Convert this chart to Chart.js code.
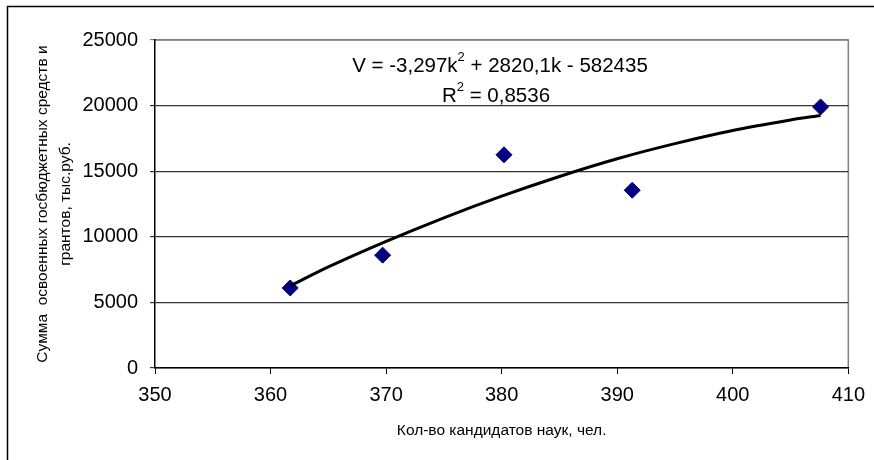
<!DOCTYPE html>
<html>
<head>
<meta charset="utf-8">
<script src="https://cdn.jsdelivr.net/npm/chart.js@4.4.0/dist/chart.umd.min.js"></script>
<style>
  body { margin: 0; background: #fff; }
</style>
</head>
<body>
<canvas id="grafico" width="874" height="460"></canvas>
<script>
// кандидаты наук vs сумма средств
var kandidaty = [361.7, 369.7, 380.2, 391.3, 407.6];
var summa = [6100, 8600, 16250, 13550, 19900];

// линия тренда
var trendK = [361.7, 365, 370, 375, 380, 385, 390, 395, 400, 405, 407.6];
var trendV = [6250, 7700, 9650, 11450, 13100, 14600, 15950, 17100, 18100, 18900, 19250];

var xTicks = [350, 360, 370, 380, 390, 400, 410];
var yTicks = [0, 5000, 10000, 15000, 20000, 25000];

var uravnenie = ['V = -3,297k', '2', ' + 2820,1k - 582435'];
var r2 = ['R', '2', ' = 0,8536'];

var shrift = 'Liberation Sans, Arial, sans-serif';

function supText(ctx, parts, cx, cy, size) {
    var big = size + 'px ' + shrift;
    var small = Math.round(size * 0.65) + 'px ' + shrift;
    ctx.font = big;
    var w0 = ctx.measureText(parts[0]).width;
    var w2 = ctx.measureText(parts[2]).width;
    ctx.font = small;
    var w1 = ctx.measureText(parts[1]).width;
    var x = cx - (w0 + w1 + w2) / 2;
    ctx.fillStyle = '#000';
    ctx.textBaseline = 'middle';
    ctx.textAlign = 'left';
    ctx.font = big;
    ctx.fillText(parts[0], x, cy);
    ctx.font = small;
    ctx.fillText(parts[1], x + w0, cy - size * 0.4);
    ctx.font = big;
    ctx.fillText(parts[2], x + w0 + w1, cy);
}

var ramka = {
    id: 'ramka',
    beforeDraw: function (chart) {
        var ctx = chart.ctx;
        var a = chart.chartArea;
        ctx.save();
        ctx.fillStyle = '#fff';
        ctx.fillRect(0, 0, chart.width, chart.height);
        ctx.strokeStyle = '#000';
        ctx.lineWidth = 1.5;
        ctx.beginPath();
        ctx.moveTo(7.5, chart.height);
        ctx.lineTo(7.5, 6.5);
        ctx.lineTo(chart.width, 6.5);
        ctx.stroke();
        ctx.strokeStyle = '#808080';
        ctx.lineWidth = 1.5;
        ctx.beginPath();
        ctx.moveTo(a.left, a.top);
        ctx.lineTo(a.right, a.top);
        ctx.lineTo(a.right, a.bottom);
        ctx.stroke();
        ctx.restore();
    },
    afterDraw: function (chart) {
        var ctx = chart.ctx;
        ctx.save();
        supText(ctx, uravnenie, 500, 66, 20.5);
        supText(ctx, r2, 496, 96, 20.5);
        ctx.restore();
    }
};

var ctx = document.getElementById('grafico').getContext('2d');
var myChart = new Chart(ctx, {
    type: 'scatter',
    data: {
        datasets: [{
            label: 'тренд',
            data: trendK.map(function (k, i) { return { x: k, y: trendV[i] }; }),
            showLine: true,
            borderColor: '#000',
            borderWidth: 3,
            pointRadius: 0,
            tension: 0.3,
            order: 0
        }, {
            label: 'данные',
            data: kandidaty.map(function (k, i) { return { x: k, y: summa[i] }; }),
            pointStyle: 'rectRot',
            pointRadius: 8,
            backgroundColor: '#000080',
            borderColor: '#000080',
            borderWidth: 1,
            order: 1
        }]
    },
    options: {
        responsive: false,
        devicePixelRatio: 1,
        animation: false,
        layout: {
            padding: { left: 0, top: 40, right: 25, bottom: 0 }
        },
        scales: {
            x: {
                type: 'linear',
                min: 350,
                max: 410,
                afterBuildTicks: function (s) {
                    s.ticks = xTicks.map(function (v) { return { value: v }; });
                },
                afterFit: function (s) { s.height = 92; },
                ticks: {
                    font: { family: shrift, size: 20 },
                    color: '#000',
                    padding: 9,
                    maxRotation: 0,
                    callback: function (v) { return String(v); }
                },
                grid: {
                    drawOnChartArea: false,
                    drawTicks: true,
                    tickLength: 6,
                    color: '#000'
                },
                border: { color: '#000', width: 1.5 },
                title: {
                    display: true,
                    text: 'Кол-во кандидатов наук, чел.',
                    font: { family: shrift, size: 15.5 },
                    color: '#000',
                    padding: { top: 0, bottom: 20 }
                }
            },
            y: {
                min: 0,
                max: 25000,
                afterBuildTicks: function (s) {
                    s.ticks = yTicks.map(function (v) { return { value: v }; });
                },
                afterFit: function (s) { s.width = 155; },
                ticks: {
                    font: { family: shrift, size: 20 },
                    color: '#000',
                    padding: 12,
                    callback: function (v) { return String(v); }
                },
                grid: {
                    tickLength: 5,
                    color: function (c) { return c.tick && c.tick.value === 25000 ? '#808080' : '#333'; },
                    lineWidth: 1.2
                },
                border: { color: '#000', width: 1.5 },
                title: {
                    display: true,
                    text: ['Сумма  освоенных госбюджетных средств и', 'грантов, тыс.руб.'],
                    font: { family: shrift, size: 15.5, lineHeight: 1.5 },
                    color: '#000',
                    padding: { top: 31, bottom: 0 }
                }
            }
        },
        plugins: {
            legend: { display: false },
            tooltip: { enabled: false }
        }
    },
    plugins: [ramka]
});
</script>
</body>
</html>
